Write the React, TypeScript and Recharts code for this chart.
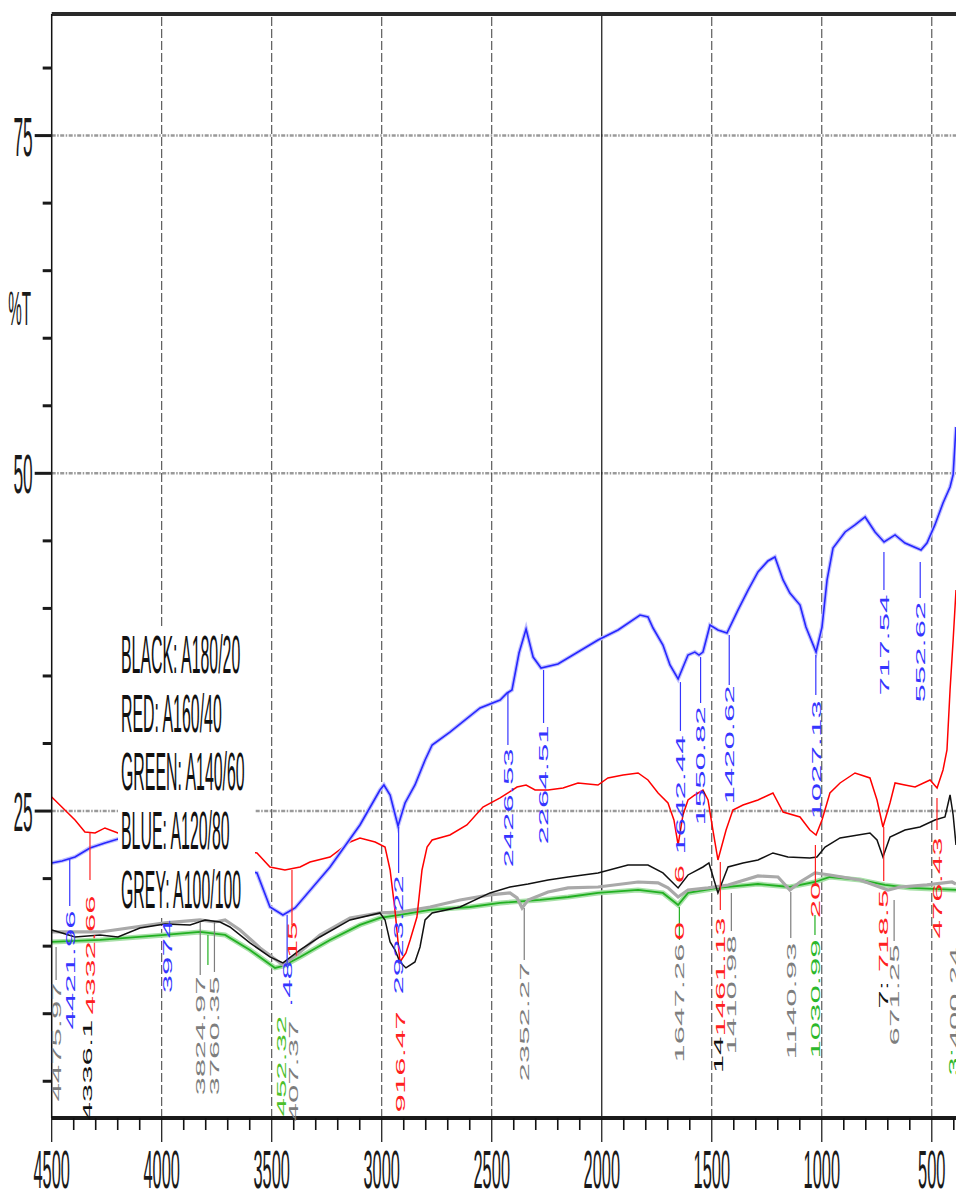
import React from 'react';
import { LineChart, Line, XAxis, YAxis, ReferenceLine, ReferenceDot } from 'recharts';

// ---------- data (wavenumber cm-1, %T) ----------
const blackSeries: [number, number][] = [
  [4500, 16.2], [4453, 15.97], [4394, 15.68], [4280, 15.83], [4199, 15.68], [4099, 16.34],
  [3985, 16.64], [3871, 16.57], [3803, 16.94], [3735, 16.79], [3690, 16.42], [3599, 15.24],
  [3508, 14.2], [3449, 13.76], [3371, 14.72], [3281, 15.68], [3144, 16.94], [3008, 17.46],
  [2985, 16.94], [2962, 15.31], [2940, 14.72], [2917, 13.83], [2890, 13.39], [2849, 13.83],
  [2826, 14.94], [2803, 16.94], [2771, 17.46], [2644, 17.9], [2508, 18.94], [2417, 19.38],
  [2335, 19.6], [2244, 19.9], [2153, 20.12], [2017, 20.42], [1881, 21.01], [1790, 21.01],
  [1722, 20.42], [1653, 19.31], [1608, 20.27], [1540, 20.86], [1513, 21.16], [1472, 18.94],
  [1449, 19.9], [1426, 20.86], [1358, 21.16], [1290, 21.38], [1222, 21.9], [1154, 21.6],
  [1054, 21.53], [1022, 21.6], [985, 22.34], [917, 23.01], [781, 23.38], [749, 22.86],
  [722, 21.6], [690, 23.08], [622, 23.6], [554, 23.82], [486, 24.34], [440, 24.56],
  [417, 26.19], [403, 24.71], [390, 22.49],
];

const redSeries: [number, number][] = [
  [4500, 26.04], [4440, 25.08], [4394, 24.34], [4349, 23.45], [4303, 23.38], [4258, 23.75],
  [4199, 23.38], [3567, 21.9], [3508, 20.86], [3440, 20.64], [3371, 20.86], [3326, 21.23],
  [3235, 21.6], [3144, 22.71], [3099, 23.01], [3030, 22.71], [2985, 22.34], [2962, 20.64],
  [2940, 17.68], [2917, 13.83], [2890, 14.5], [2871, 15.46], [2840, 17.16], [2817, 20.64],
  [2794, 22.34], [2771, 22.86], [2690, 23.23], [2613, 23.97], [2540, 25.3], [2462, 25.97],
  [2385, 26.78], [2344, 26.93], [2303, 26.56], [2244, 26.56], [2176, 26.71], [2108, 27.08],
  [2017, 26.93], [1972, 27.45], [1903, 27.67], [1835, 27.82], [1790, 27.3], [1744, 26.34],
  [1699, 25.6], [1672, 24.34], [1653, 22.49], [1631, 24.71], [1608, 25.82], [1577, 26.19],
  [1540, 26.56], [1517, 25.82], [1495, 23.6], [1472, 21.38], [1435, 23.6], [1404, 25.08],
  [1358, 25.45], [1290, 25.82], [1222, 26.34], [1176, 24.93], [1099, 24.56], [1054, 23.6],
  [1026, 23.23], [999, 24.34], [963, 26.34], [917, 27.08], [849, 27.82], [781, 27.45],
  [749, 25.82], [722, 23.82], [690, 25.6], [667, 27.08], [622, 26.93], [576, 26.78],
  [508, 27.3], [476, 26.71], [449, 28.04], [431, 29.52], [417, 33.96], [403, 37.66], [390, 41.36],
];

const greenSeries: [number, number][] = [
  [4500, 15.31], [4280, 15.46], [3985, 15.83], [3826, 16.05], [3712, 15.83], [3599, 14.72],
  [3485, 13.39], [3449, 13.53], [3371, 14.2], [3235, 15.46], [3099, 16.57], [3008, 17.09],
  [2917, 17.31], [2780, 17.68], [2599, 17.9], [2462, 18.2], [2280, 18.42], [2153, 18.64],
  [2017, 18.94], [1835, 19.16], [1722, 18.94], [1653, 18.05], [1608, 18.94], [1472, 19.31],
  [1290, 19.6], [1145, 19.38], [1031, 19.75], [963, 20.12], [826, 19.9], [713, 19.53],
  [599, 19.31], [390, 19.16],
];

const blueSeries: [number, number][] = [
  [4500, 21.16], [4453, 21.31], [4394, 21.6], [4326, 22.27], [4258, 22.64], [4199, 22.93],
  [3567, 20.42], [3508, 17.9], [3449, 17.31], [3394, 17.83], [3235, 20.86], [3099, 23.97],
  [3008, 26.56], [2990, 26.93], [2962, 26.19], [2926, 23.9], [2894, 25.6], [2849, 26.93],
  [2803, 28.78], [2771, 29.89], [2690, 30.85], [2553, 32.63], [2462, 33.22], [2430, 33.74],
  [2408, 33.96], [2376, 36.7], [2344, 38.48], [2312, 36.4], [2276, 35.59], [2199, 35.89],
  [2017, 37.66], [1926, 38.4], [1826, 39.51], [1790, 39.37], [1767, 38.55], [1722, 37.29],
  [1690, 35.81], [1653, 34.78], [1608, 36.55], [1577, 36.77], [1558, 36.55], [1540, 36.77],
  [1508, 38.77], [1472, 38.4], [1431, 38.18], [1381, 39.88], [1335, 41.36], [1290, 42.7],
  [1245, 43.51], [1213, 43.81], [1176, 42.11], [1145, 41.14], [1099, 40.25], [1072, 38.62],
  [1026, 36.77], [999, 38.62], [976, 42.11], [949, 44.47], [894, 45.66], [849, 46.18],
  [803, 46.77], [758, 45.66], [717, 44.92], [667, 45.44], [622, 44.84], [549, 44.33],
  [522, 44.84], [486, 46.18], [449, 47.8], [417, 48.99], [403, 49.9], [390, 53.43],
];

const greySeries: [number, number][] = [
  [4500, 16.05], [4280, 16.05], [3985, 16.72], [3826, 16.94], [3758, 16.79], [3712, 16.94],
  [3644, 16.2], [3553, 14.87], [3449, 13.61], [3371, 14.57], [3281, 15.83], [3144, 17.09],
  [3008, 17.46], [2917, 17.53], [2780, 17.9], [2644, 18.42], [2508, 18.79], [2417, 18.94],
  [2385, 18.57], [2362, 17.83], [2335, 18.42], [2244, 19.01], [2153, 19.31], [2017, 19.38],
  [1835, 19.75], [1744, 19.68], [1699, 19.31], [1653, 18.64], [1608, 19.16], [1517, 19.31],
  [1426, 19.53], [1290, 20.2], [1199, 20.12], [1145, 19.16], [1099, 19.75], [1031, 20.42],
  [963, 20.27], [826, 19.9], [699, 19.16], [644, 19.38], [522, 19.53], [408, 19.75], [390, 19.6],
];

const legendLabels = ['BLACK: A180/20', 'RED: A160/40', 'GREEN: A140/60', 'BLUE: A120/80', 'GREY: A100/100'];

const xMinorTicks = [4500, 4400, 4300, 4200, 4100, 4000, 3900, 3800, 3700, 3600, 3500, 3400, 3300, 3200, 3100, 3000,
  2900, 2800, 2700, 2600, 2500, 2400, 2300, 2200, 2100, 2000, 1900, 1800, 1700, 1600, 1500, 1400, 1300, 1200,
  1100, 1000, 900, 800, 700, 600, 500, 400];
const xLabelTicks = [4500, 4000, 3500, 3000, 2500, 2000, 1500, 1000, 500];
const yMinorTicks = [5, 10, 15, 20, 25, 30, 35, 40, 45, 50, 55, 60, 65, 70, 75, 80];
const yLabelTicks = [25, 50, 75];
const xGridDashed = [4000, 3500, 3000, 2500, 1500, 1000, 500];
const xGridSolid = [2000];
const yGrid = [25, 50, 75];

const C = {
  black: '#111111', red: '#ff2020', green: '#22b022', blue: '#3535ff', grey: '#7d7d7d', greenText: '#2cb82c',
};

// peak annotations: [text, wavenumber, %T at text centre, colour]
const peakLabels: [string, number, number, string][] = [
  ['4475.97', 4480, 7.91, C.grey],
  ['4421.96', 4418, 13.24, C.blue],
  ['4332.66', 4326, 14.35, C.red],
  ['4336.1', 4340, 5.83, C.black],
  ['3974.', 3974, 14.57, C.blue],
  ['3824.97', 3824.97, 8.35, C.grey],
  ['3760.35', 3760.35, 8.35, C.grey],
  ['452.32', 3457, 6.13, '#4cc02a'],
  ['407.37', 3403, 5.76, C.grey],
  ['.48', 3430, 12.2, C.blue],
  ['15', 3408, 15.46, C.red],
  ['2923.22', 2923.22, 15.83, C.blue],
  ['916.47', 2915, 6.43, C.red],
  ['2426.53', 2426.53, 25.23, C.blue],
  ['2264.51', 2264.51, 26.93, C.blue],
  ['2352.27', 2352.27, 9.39, C.grey],
  ['1642.44', 1642.44, 26.19, C.blue],
  ['1550.82', 1550.82, 28.34, C.blue],
  ['1420.62', 1420.62, 29.89, C.blue],
  ['6', 1650, 20.34, C.red],
  ['0', 1650, 16.12, C.red],
  ['1647.26', 1647.26, 10.79, C.grey],
  ['1461.13', 1461.13, 12.72, C.red],
  ['14', 1472, 6.95, C.black],
  ['1410.98', 1410.98, 11.39, C.grey],
  ['1140.93', 1140.93, 10.94, C.grey],
  ['1030.99', 1030.99, 11.09, C.greenText],
  ['20', 1029, 18.42, C.red],
  ['1027.13', 1027.13, 28.78, C.blue],
  ['718.5', 718.5, 16.12, C.red],
  ['7:', 722, 11.39, C.black],
  ['671.25', 671.25, 11.39, C.grey],
  ['717.54', 717.54, 37.29, C.blue],
  ['552.62', 552.62, 36.77, C.blue],
  ['476.43', 476.43, 19.31, C.red],
  ['400.24', 400.24, 11.17, C.grey],
  ['3:', 403, 6.43, C.greenText],
];

// leader lines: [wavenumber, %T start, %T end, colour]
const leaders: [number, number, number, string][] = [
  [4480, 14.94, 12.5, C.grey],
  [4418, 21.53, 17.97, C.blue],
  [4326, 23.38, 19.9, C.red],
  [3824.97, 16.79, 12.87, C.grey],
  [3790, 15.83, 13.61, C.green],
  [3760.35, 16.79, 13.09, C.grey],
  [3430, 17.31, 13.61, C.blue],
  [3408, 20.64, 16.57, C.red],
  [2923.22, 23.82, 20.42, C.blue],
  [2426.53, 33.74, 29.89, C.blue],
  [2264.51, 35.44, 31.52, C.blue],
  [2352.27, 17.83, 13.98, C.grey],
  [1642.44, 34.55, 30.93, C.blue],
  [1550.82, 36.4, 33.0, C.blue],
  [1420.62, 38.03, 34.33, C.blue],
  [1647.26, 17.9, 15.46, C.green],
  [1461.13, 21.23, 17.68, C.red],
  [1410.98, 18.94, 16.12, C.grey],
  [1140.93, 19.01, 15.61, C.grey],
  [1030.99, 17.31, 15.83, C.green],
  [1029, 22.49, 19.53, C.red],
  [1027.13, 36.55, 33.59, C.blue],
  [718.5, 23.82, 19.83, C.red],
  [671.25, 18.42, 15.38, C.grey],
  [717.54, 44.18, 41.36, C.blue],
  [552.62, 43.44, 40.77, C.blue],
  [476.43, 25.97, 23.6, C.red],
];

const toPts = (s: [number, number][]) => s.map(([wn, t]) => ({ wn, t }));

const FONT = '"Liberation Sans", Arial, sans-serif';

const XTick = (props: any) => {
  const { x, y, payload } = props;
  const v = payload.value as number;
  const major = xLabelTicks.includes(v);
  return (
    <g>
      <line x1={x} x2={x} y1={y} y2={y + (major ? 24 : 12)} stroke="#111" strokeWidth={major ? 1.2 : 1.6} />
      {major && (
        <text transform={`translate(${x},${y + 70}) scale(0.31,1)`} textAnchor="middle" fontSize={53}
          fontFamily={FONT} fill="#1a1a1a">{v}</text>
      )}
    </g>
  );
};

const YTick = (props: any) => {
  const { x, y, payload } = props;
  const v = payload.value as number;
  const major = yLabelTicks.includes(v);
  return (
    <g>
      <line x1={x - (major ? 17 : 9)} x2={x} y1={y} y2={y} stroke="#1a1a1a" strokeWidth={3} />
      {major && (
        <text transform={`translate(${x - 19},${y + 20}) scale(0.31,1)`} textAnchor="end" fontSize={56}
          fontFamily={FONT} fill="#1a1a1a">{v}</text>
      )}
    </g>
  );
};

const peakShape = (text: string, color: string) => (p: any) => (
  <text transform={`translate(${p.cx},${p.cy}) scale(0.4,1) rotate(-90)`} textAnchor="middle" dy="0.36em"
    fontSize={33} fontFamily={FONT} fill={color}>{text}</text>
);

export default function App() {
  return (
    <div style={{ position: 'absolute', left: 0, top: 0, width: 956, height: 1193, background: '#fff' }}>
      <LineChart width={956} height={1193} margin={{ top: 14, right: 0, bottom: 0, left: 0 }}>
        <XAxis dataKey="wn" type="number" domain={[390, 4500]} reversed allowDataOverflow
          ticks={xMinorTicks} interval={0} tick={<XTick />} tickLine={false} tickSize={0} tickMargin={0}
          height={75} axisLine={{ stroke: '#1a1a1a', strokeWidth: 4 }} />
        <YAxis dataKey="t" type="number" domain={[2.28, 84]} allowDataOverflow ticks={yMinorTicks} interval={0}
          tick={<YTick />} tickLine={false} tickSize={0} tickMargin={0} width={51.7}
          axisLine={{ stroke: '#111', strokeWidth: 1.5 }} />
        {yGrid.map((v) => (
          <ReferenceLine key={'hy' + v} y={v} stroke="#9a9a9a" strokeWidth={2.5} strokeDasharray="4 1.5 1.5 1.5" />
        ))}
        {xGridDashed.map((v) => (
          <ReferenceLine key={'vx' + v} x={v} stroke="#3a3a3a" strokeWidth={1} strokeDasharray="9 3" />
        ))}
        {xGridSolid.map((v) => (
          <ReferenceLine key={'sx' + v} x={v} stroke="#111" strokeWidth={1.2} />
        ))}
        <ReferenceLine y={84} stroke="#2a2a2a" strokeWidth={4} />

        <Line data={toPts(greenSeries)} dataKey="t" stroke="#a8e0a8" strokeWidth={5} dot={false} isAnimationActive={false} type="linear" />
        <Line data={toPts(greenSeries)} dataKey="t" stroke={C.green} strokeWidth={1.8} dot={false} isAnimationActive={false} type="linear" />
        <Line data={toPts(greySeries)} dataKey="t" stroke="#a9a9a9" strokeWidth={3.2} dot={false} isAnimationActive={false} type="linear" />
        <Line data={toPts(blackSeries)} dataKey="t" stroke={C.black} strokeWidth={1.5} dot={false} isAnimationActive={false} type="linear" />
        <Line data={toPts(redSeries)} dataKey="t" stroke="#ff0000" strokeWidth={1.5} dot={false} isAnimationActive={false} type="linear" />
        <Line data={toPts(blueSeries)} dataKey="t" stroke="#c0c0ff" strokeWidth={4} dot={false} isAnimationActive={false} type="linear" />
        <Line data={toPts(blueSeries)} dataKey="t" stroke="#2626ff" strokeWidth={1.6} dot={false} isAnimationActive={false} type="linear" />

        {leaders.map(([wn, a, b, col], i) => (
          <ReferenceLine key={'ld' + i} segment={[{ x: wn, y: a }, { x: wn, y: b }]} stroke={col} strokeWidth={1.2} />
        ))}
        {peakLabels.map(([text, wn, t, col], i) => (
          <ReferenceDot key={'pk' + i} x={wn} y={t} r={0} ifOverflow="visible" shape={peakShape(text, col)} />
        ))}
      </LineChart>

      <svg style={{ position: 'absolute', left: 0, top: 280 }} width={40} height={60}>
        <text transform="translate(31,45) scale(0.31,1)" textAnchor="end" fontSize={49} fontFamily={FONT} fill="#1a1a1a">%T</text>
      </svg>

      <div style={{ position: 'absolute', left: 118, top: 627, width: 137, height: 291, background: '#fff' }}>
        <svg width={137} height={291}>
          {legendLabels.map((s, i) => (
            <text key={s} transform={`translate(3,${46 + i * 58.7}) scale(0.3,1)`} fontSize={53}
              fontFamily={FONT} fill="#111">{s}</text>
          ))}
        </svg>
      </div>
    </div>
  );
}
